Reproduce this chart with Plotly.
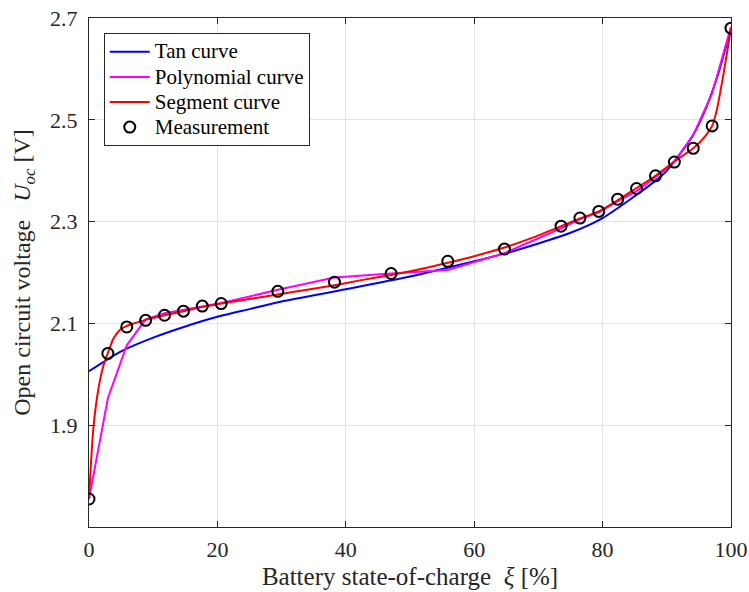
import plotly.graph_objects as go

# Measurement data
meas_x = [0, 2.94, 5.88, 8.82, 11.76, 14.71, 17.65, 20.59, 29.41, 38.24, 47.06,
          55.88, 64.71, 73.53, 76.47, 79.41, 82.35, 85.29, 88.24, 91.18, 94.12, 97.06, 100]
meas_y = [1.755, 2.041, 2.093, 2.106, 2.116, 2.124, 2.134, 2.139, 2.163, 2.181, 2.198,
          2.222, 2.246, 2.291, 2.307, 2.320, 2.344, 2.365, 2.390, 2.417, 2.444, 2.488, 2.680]

# Tan curve
tan_x = [0, 5, 10, 15, 20, 25, 30, 40, 50, 60, 65, 70, 75, 80, 85, 88, 90, 92, 94, 96, 98, 100]
tan_y = [2.006, 2.045, 2.072, 2.094, 2.113, 2.128, 2.143, 2.167, 2.192, 2.222, 2.238,
         2.257, 2.278, 2.307, 2.350, 2.378, 2.400, 2.432, 2.468, 2.520, 2.590, 2.680]

# Polynomial curve
poly_x = [0, 2.94, 5.88, 8.82, 11.76, 14.71, 17.65, 20.59, 29.41, 38.24, 47.06,
          55.88, 64.71, 73.53, 76.47, 79.41, 82.35, 85.29, 88.24, 91.18, 94.12, 97.06, 100]
poly_y = [1.755, 1.953, 2.057, 2.108, 2.120, 2.127, 2.133, 2.140, 2.166, 2.190, 2.198,
          2.205, 2.238, 2.287, 2.305, 2.318, 2.340, 2.360, 2.387, 2.418, 2.470, 2.552, 2.683]

# Segment curve
seg_x = [0, 0.65, 1.43, 2.2, 2.94, 3.8, 4.8, 5.88, 7.0, 8.82, 11.76, 14.71, 17.65, 20.59,
         25, 29.41, 34, 38.24, 42, 47.06, 51, 55.88, 60, 64.71, 69, 73.53, 76.47, 79.41,
         82.35, 85.29, 88.24, 91.18, 94.12, 96, 97.06, 97.8, 98.9, 100]
seg_y = [1.755, 1.890, 1.969, 2.015, 2.042, 2.070, 2.087, 2.095, 2.100, 2.107, 2.116,
         2.124, 2.132, 2.139, 2.148, 2.157, 2.166, 2.175, 2.184, 2.195, 2.205, 2.219,
         2.232, 2.249, 2.268, 2.291, 2.306, 2.320, 2.342, 2.366, 2.390, 2.418, 2.444,
         2.468, 2.488, 2.520, 2.595, 2.680]

x_ticks = [0, 20, 40, 60, 80, 100]
y_ticks = [1.9, 2.1, 2.3, 2.5, 2.7]

FONT = "Liberation Serif, Times New Roman, serif"


def leg(name):
    return f'<span style="font-size:21px">{name}</span>'


fig = go.Figure()
fig.add_trace(go.Scatter(x=tan_x, y=tan_y, mode="lines", name=leg("Tan curve"),
                         line=dict(color="#0000ff", width=2, shape="spline", smoothing=0.6)))
fig.add_trace(go.Scatter(x=poly_x, y=poly_y, mode="lines", name=leg("Polynomial curve"),
                         line=dict(color="#ff00ff", width=2)))
fig.add_trace(go.Scatter(x=seg_x, y=seg_y, mode="lines", name=leg("Segment curve"),
                         line=dict(color="#ff0000", width=2, shape="spline", smoothing=0.6)))
fig.add_trace(go.Scatter(x=meas_x, y=meas_y, mode="markers", name=leg("Measurement"),
                         marker=dict(symbol="circle-open", size=11, color="black",
                                     line=dict(width=2, color="black"))))

axis_common = dict(
    showline=True, linecolor="#262626", linewidth=1, mirror="ticks",
    ticks="inside", ticklen=6, tickcolor="#262626",
    showgrid=True, gridcolor="#e3e3e3", gridwidth=1, zeroline=False,
    tickfont=dict(family=FONT, size=22, color="#262626"),
    automargin=False, ticklabeloverflow="allow",
)

fig.update_layout(
    width=749, height=592,
    margin=dict(l=89, r=18, t=18, b=65),
    paper_bgcolor="white", plot_bgcolor="white",
    font=dict(family=FONT, color="#262626"),
    showlegend=True,
    legend=dict(x=0.023, y=0.97, xanchor="left", yanchor="top",
                bgcolor="white", bordercolor="#262626", borderwidth=1,
                font=dict(family=FONT, size=17, color="black"),
                tracegroupgap=0, itemwidth=40),
    xaxis=dict(range=[0, 100], tickvals=x_ticks, ticktext=[str(v) for v in x_ticks],
               ticklabelstandoff=3,
               title=dict(text="Battery state-of-charge  <i>ξ</i> [%]",
                          font=dict(family=FONT, size=25, color="#262626"), standoff=6),
               **axis_common),
    yaxis=dict(range=[1.7, 2.7], tickvals=y_ticks, ticktext=[f"{v:.1f}" for v in y_ticks],
               ticklabelstandoff=6,
               title=dict(text="Open circuit voltage   <i>U</i><sub><i>oc</i></sub> [V]",
                          font=dict(family=FONT, size=24, color="#262626"), standoff=12),
               **axis_common),
)

# Remove the default 8px page margin so the 749x592 figure fills the window exactly.
fig.write_html("out.html",
               config={"displayModeBar": False},
               post_script="document.body.style.margin='0';document.body.style.overflow='hidden';")
